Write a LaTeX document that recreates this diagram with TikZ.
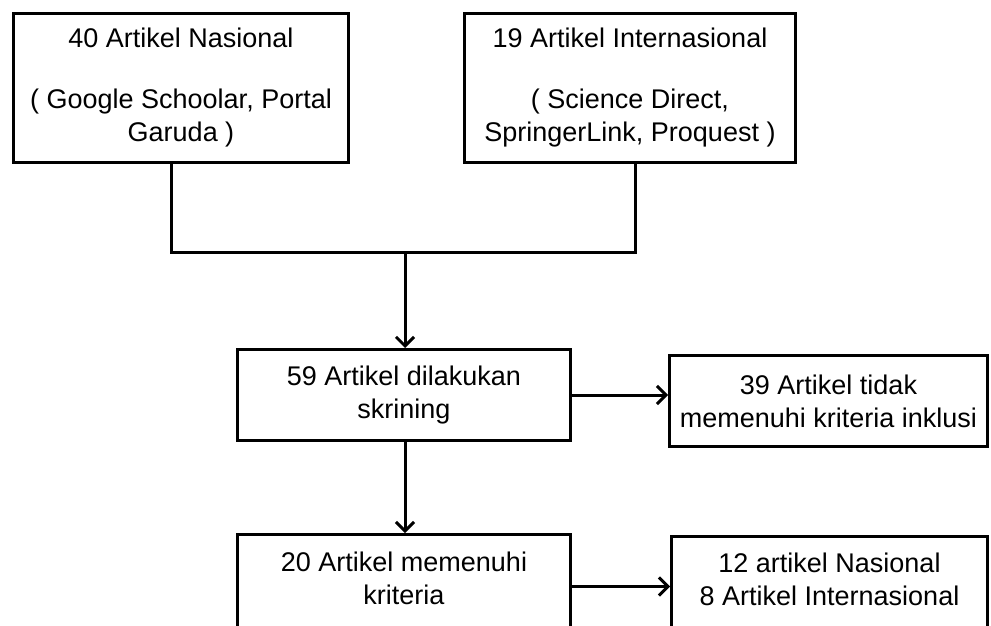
\documentclass[tikz,border=0pt]{standalone}
\usepackage{fontspec}
\setmainfont{Liberation Sans}
\usetikzlibrary{arrows.meta,positioning}

\begin{document}
\begin{tikzpicture}[
  x=1pt,y=-1pt,
  every node/.style={font=\fontsize{27}{33}\selectfont},
  box/.style={draw,line width=3pt,align=center,inner sep=0pt},
  ln/.style={line width=3pt},
  arr/.style={line width=3pt,-{Straight Barb[length=9pt,width=18pt]}},
]
  \clip (0,0) rectangle (991,626);

  % sumber artikel
  \node[box,minimum width=335pt,minimum height=148pt] (nas) at (181,88)
    {40 Artikel Nasional\\[28pt]( Google Schoolar, Portal\\Garuda )};
  \node[box,minimum width=331pt,minimum height=148pt] (intl) at (630,88)
    {19 Artikel Internasional\\[28pt]( Science Direct,\\SpringerLink, Proquest )};

  % gabungan
  \coordinate (jn) at (405,252);
  \draw[ln] ([xshift=-10pt]nas.south) |- (jn) -| ([xshift=5pt]intl.south);

  % skrining
  \node[box,minimum width=333pt,minimum height=91pt] (skrin) at (404,395)
    {59 Artikel dilakukan\\skrining};
  \node[box,minimum width=318pt,minimum height=91pt] (tolak) at (828.5,401)
    {39 Artikel tidak\\memenuhi kriteria inklusi};
  \draw[arr] (jn) -- (jn |- skrin.north);
  \draw[arr] (skrin.east) -- (skrin.east -| tolak.west);

  % hasil
  \node[box,minimum width=333pt,minimum height=100pt,text depth=13pt] (lolos) at (404,584.5)
    {20 Artikel memenuhi\\kriteria};
  \node[box,minimum width=316pt,minimum height=100pt,text depth=15pt] (hasil) at (829.5,586.5)
    {12 artikel Nasional\\8 Artikel Internasional};
  \draw[arr] (skrin.south -| jn) -- (lolos.north -| jn);
  \draw[arr] ([yshift=-2pt]lolos.east) -- ([yshift=-2pt]lolos.east -| hasil.west);
\end{tikzpicture}
\end{document}
